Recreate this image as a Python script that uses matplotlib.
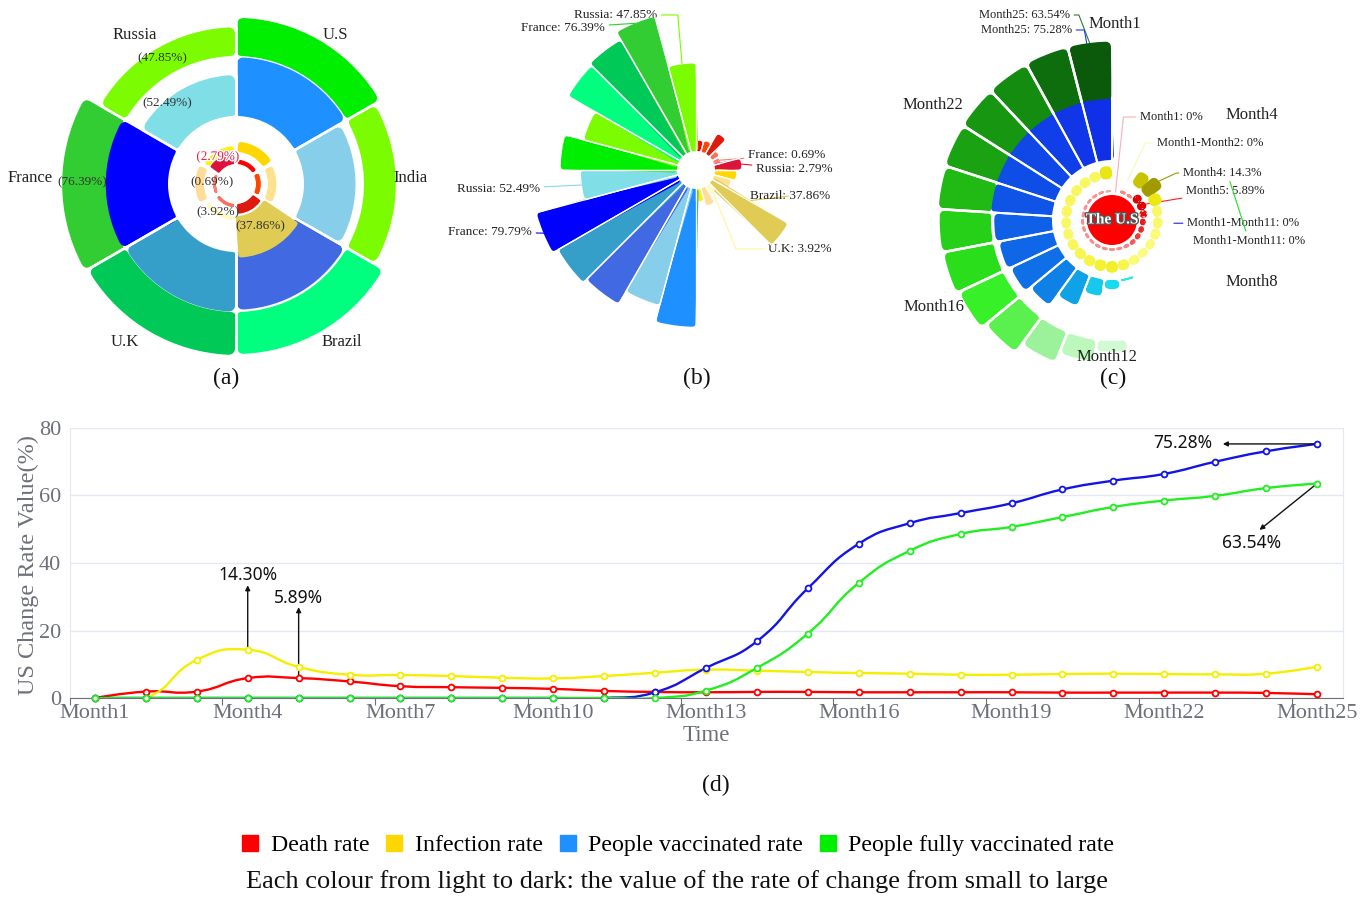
import numpy as np
import matplotlib
matplotlib.use('Agg')
import matplotlib.pyplot as plt
from matplotlib.path import Path
from matplotlib.patches import PathPatch
from matplotlib.colors import LinearSegmentedColormap
from matplotlib.lines import Line2D
import matplotlib.patheffects as pe

W, H, DPI = 1372, 897, 100
SERIF = 'Liberation Serif'

# ---------------- data ----------------
countries = ['U.S', 'India', 'Brazil', 'U.K', 'France', 'Russia']
death_by_country = [1.1, 1.2, 2.45, 0.85, 0.69, 2.79]
infection_by_country = [9.3, 7.6, 37.86, 3.92, 7.9, 5.4]
vaccinated_by_country = [75.28, 66.0, 74.0, 76.5, 79.79, 52.49]
fully_by_country = [63.54, 53.0, 70.0, 71.5, 76.39, 47.85]

months = ['Month%d' % i for i in range(1, 26)]
death_rate = [0, 1.9, 1.9, 5.89, 5.89, 4.9, 3.5, 3.2, 3.0, 2.7, 2.1, 1.8, 1.7,
              1.8, 1.8, 1.7, 1.7, 1.7, 1.7, 1.6, 1.6, 1.6, 1.6, 1.5, 1.1]
infection_rate = [0, 0, 11.3, 14.3, 9.2, 6.9, 6.8, 6.5, 6.0, 5.8, 6.5, 7.5, 8.4,
                  8.1, 7.7, 7.4, 7.2, 6.9, 6.9, 7.1, 7.2, 7.1, 7.0, 7.2, 9.3]
vaccinated_rate = [0, 0, 0, 0, 0, 0, 0, 0, 0, 0, 0, 1.7, 8.9,
                   16.8, 32.5, 45.7, 51.8, 54.8, 57.7, 61.8, 64.4, 66.4, 70.0, 73.1, 75.28]
fully_rate = [0, 0, 0, 0, 0, 0, 0, 0, 0, 0, 0, 0, 2.2,
              8.9, 19.1, 34.1, 43.6, 48.6, 50.7, 53.6, 56.6, 58.5, 59.9, 62.2, 63.54]

# colours per country (panels a, b)
death_colors = ['#FF0000', '#FF4500', '#DD1A10', '#F47260', '#FA8072', '#DC143C']
infection_colors = ['#FFD700', '#FFE08C', '#E0CB55', '#FFF9C8', '#FFDD99', '#FFF200']
vaccinated_colors = ['#1E90FF', '#87CEEB', '#4169E1', '#359FC9', '#0000FF', '#80DEE6']
fully_colors = ['#00EE00', '#7CFC00', '#00FF7F', '#00C957', '#32CD32', '#7CFC00']

# light -> dark colour scales (panel c)
cm_death = LinearSegmentedColormap.from_list('d', [(0, '#FBC4C4'), (0.4, '#F47C7C'), (0.56, '#E82020'), (1, '#E00000')])
cm_inf = LinearSegmentedColormap.from_list('i', [(0, '#FFFFC0'), (0.45, '#FAFA78'), (0.62, '#F0EE18'), (0.8, '#C6C200'), (1, '#A09A00')])
cm_vac = LinearSegmentedColormap.from_list('v', [(0, '#1CF0F0'), (0.5, '#0E96E6'), (1, '#1030E8')])
cm_full = LinearSegmentedColormap.from_list('f', [(0, '#D8FBD8'), (0.35, '#90F090'), (0.6, '#48F038'), (0.72, '#30F020'),
                                                  (0.8, '#26D018'), (0.88, '#1CA812'), (0.95, '#138A10'), (1, '#0B5A0B')])

fig = plt.figure(figsize=(W / DPI, H / DPI), dpi=DPI)


def px(x, y):
    return (x, H - y)


def ftext(x, y, s, **kw):
    kw.setdefault('ha', 'center')
    kw.setdefault('va', 'center')
    kw.setdefault('family', SERIF)
    return fig.text(x / W, 1 - y / H, s, **kw)


def polar_ax(cx, cy, R):
    ax = fig.add_axes([(cx - R) / W, (H - cy - R) / H, 2 * R / W, 2 * R / H], projection='polar')
    ax.set_theta_zero_location('N')
    ax.set_theta_direction(-1)
    ax.set_ylim(0, R)
    ax.axis('off')
    return ax


def rbars(ax, thetas, heights, bottom, width, colors, e=4.0, gap=2.0, zorder=2, sep=0, sep_from=None):
    # bars with rounded corners (thick round-joined edge of the same colour),
    # a plain filled bar underneath keeps small bars solid,
    # optional white separators between neighbouring bars
    for t, h, c in zip(thetas, heights, colors):
        if h <= 0:
            continue
        ee = min(e, h / 2)
        rout = bottom + h
        w = max(width - (gap + 2 * ee) / rout, 0.002)
        ax.bar(t, max(h - 2 * ee, 0.05), width=w, bottom=bottom + ee, color=c, edgecolor=c,
               linewidth=2 * ee * 72 / DPI, joinstyle='round', zorder=zorder)
        ax.bar(t, h - 0.6 * ee, width=w + 1.4 * ee / rout, bottom=bottom + 0.3 * ee, color=c,
               linewidth=0, zorder=zorder)
        if sep:
            r0 = bottom if sep_from is None else sep_from
            for tb in (t - width / 2, t + width / 2):
                ax.plot([tb, tb], [r0, rout], color='white', lw=sep * 72 / DPI,
                        solid_capstyle='butt', zorder=zorder + 0.01)


def leader(ax, s, xy_deg, r, tx, ty, color, ha, conn='arc3', size=9.5):
    ax.annotate(s, xy=(np.deg2rad(xy_deg), r), xycoords='data', xytext=px(tx, ty), textcoords='figure pixels',
                ha=ha, va='center', family=SERIF, fontsize=size, color='#222222', zorder=0.5,
                arrowprops=dict(arrowstyle='-', color=color, lw=0.8, shrinkA=1, shrinkB=0, connectionstyle=conn))


# ---------------- (a) nested rose rings ----------------
dA = np.array(death_by_country)
iA = np.array(infection_by_country)
vA = np.array(vaccinated_by_country)
fA = np.array(fully_by_country)
axA = polar_ax(236, 184, 200)
thA = np.deg2rad(30 + 60 * np.arange(6))
wA = np.deg2rad(60)
rbars(axA, thA, 0.6 * fA, 128, wA, fully_colors, e=6, gap=2.5, sep=2.5)
rbars(axA, thA, 0.78 * vA, 68, wA, vaccinated_colors, e=6, gap=2.5, sep=2.5)
rbars(axA, thA, 1.1 * iA, 32, wA, infection_colors, e=2.5, gap=5, zorder=3)
rbars(axA, thA, 4 * dA, 20, wA, death_colors, e=1.5, gap=4, zorder=4)

for name, (x, y) in zip(countries, [(335, 35), (410, 178), (342, 342), (125, 342), (30, 178), (135, 35)]):
    ftext(x, y, name, fontsize=12, color='#222222')
ftext(162, 58, '(%.2f%%)' % fully_by_country[5], fontsize=9.5, color='#333333')
ftext(167, 103, '(%.2f%%)' % vaccinated_by_country[5], fontsize=9.5, color='#333333')
ftext(82, 182, '(%.2f%%)' % fully_by_country[4], fontsize=9.5, color='#333333')
ftext(212, 182, '(%.2f%%)' % death_by_country[4], fontsize=9.5, color='#333333', zorder=10)
ftext(218, 212, '(%.2f%%)' % infection_by_country[3], fontsize=9.5, color='#333333', zorder=10)
ftext(260, 226, '(%.2f%%)' % infection_by_country[2], fontsize=9.5, color='#333333', zorder=10)
ftext(218, 157, '(%.2f%%)' % death_by_country[5], fontsize=9.5, color='#E8204A', zorder=10,
      path_effects=[pe.withStroke(linewidth=2, foreground='white')])

# ---------------- (b) radial bars ----------------
axB = polar_ax(696, 170, 180)
thB = np.deg2rad(7.5 + 15 * np.arange(24))
hB = np.concatenate([9.5 * dA, 2.3 * iA, 1.83 * vA, 1.83 * fA])
cB = death_colors + infection_colors + vaccinated_colors + fully_colors
rbars(axB, thB, hB, 19, np.deg2rad(15), cB, e=3, gap=1.2, sep=1.3, sep_from=0)

leader(axB, 'Russia: %.2f%%' % fully_by_country[5], 352.5, 19 + 1.83 * fA[5], 657, 15, '#7CFC00', 'right',
       'angle,angleA=0,angleB=95,rad=0')
leader(axB, 'France: %.2f%%' % fully_by_country[4], 337.5, 19 + 1.83 * fA[4], 605, 28, '#32CD32', 'right')
leader(axB, 'France: %.2f%%' % death_by_country[4], 67.5, 19 + 9.5 * dA[4], 748, 155, '#FA8072', 'left')
leader(axB, 'Russia: %.2f%%' % death_by_country[5], 82.5, 19 + 9.5 * dA[5], 756, 169, '#DC143C', 'left')
leader(axB, 'Brazil: %.2f%%' % infection_by_country[2], 121, 60, 750, 196, '#E0CB55', 'left')
leader(axB, 'U.K: %.2f%%' % infection_by_country[3], 142.5, 19 + 2.3 * iA[3], 768, 249, '#FFF3A0', 'left',
       'angle,angleA=0,angleB=-68,rad=0')
leader(axB, 'Russia: %.2f%%' % vaccinated_by_country[5], 262.5, 19 + 1.83 * vA[5], 540, 189, '#80DEE6', 'right')
leader(axB, 'France: %.2f%%' % vaccinated_by_country[4], 247.5, 19 + 1.83 * vA[4], 532, 232, '#0000FF', 'right')

# ---------------- (c) monthly polar bars for the U.S ----------------
axC = polar_ax(1112, 220, 215)
thC = np.deg2rad(14.4 * (np.arange(25) + 0.5))
wC = np.deg2rad(14.4)
axC.bar(0, 25, width=2 * np.pi, bottom=0, color='#FF0000', zorder=2)
dC = np.array(death_rate)
iC = np.array(infection_rate)
vC = np.array(vaccinated_rate)
fC = np.array(fully_rate)
rbars(axC, thC, 1.6 * dC, 28, wC, [cm_death(v / dC.max()) for v in dC], e=4, gap=1.5)
rbars(axC, thC, 1.4 * iC, 41, wC, [cm_inf(v / iC.max()) for v in iC], e=5, gap=1.2)
rbars(axC, thC, 1.0 * vC, 60, wC, [cm_vac(v / vC.max()) for v in vC], e=4.5, gap=2, sep=2)
rbars(axC, thC, 7.2 * np.sqrt(fC), 121, wC, [cm_full(v / fC.max()) for v in fC], e=5, gap=2.5, sep=2.5, zorder=3)

ftext(1112, 220, 'The U.S', fontsize=11, color='white', weight='bold', zorder=10,
      path_effects=[pe.withStroke(linewidth=2, foreground='#555555')])
for name, (x, y) in zip(['Month1', 'Month4', 'Month8', 'Month12', 'Month16', 'Month22'],
                        [(1115, 24), (1252, 115), (1252, 282), (1107, 357), (934, 307), (933, 105)]):
    ftext(x, y, name, fontsize=12, color='#222222')

leader(axC, 'Month25: %.2f%%' % fully_rate[-1], 352.8, 121 + 7.2 * np.sqrt(fC[-1]), 1070, 15, '#2E7D32', 'right',
       'angle,angleA=0,angleB=111,rad=0', size=9)
leader(axC, 'Month25: %.2f%%' % vaccinated_rate[-1], 352.8, 118, 1072, 30, '#1E3CE0', 'right',
       'angle,angleA=0,angleB=100,rad=0', size=9)
leader(axC, 'Month1: %g%%' % death_rate[0], 7.2, 28, 1140, 117, '#F8B0B0', 'left',
       'angle,angleA=0,angleB=84,rad=0', size=9)
leader(axC, 'Month1-Month2: %g%%' % infection_rate[0], 21.6, 42, 1157, 143, '#F8F8C0', 'left',
       'angle,angleA=0,angleB=65,rad=0', size=9)
leader(axC, 'Month4: %g%%' % infection_rate[3], 50.4, 41 + 1.4 * iC[3], 1183, 173, '#A09A00', 'left',
       'angle,angleA=0,angleB=25,rad=0', size=9)
leader(axC, 'Month5: %g%%' % death_rate[4], 64.8, 28 + 1.6 * dC[4], 1186, 191, '#FF2020', 'left', size=9)
leader(axC, 'Month1-Month11: %g%%' % vaccinated_rate[0], 93, 62, 1187, 223, '#2020FF', 'left', size=9)
leader(axC, 'Month1-Month11: %g%%' % fully_rate[0], 72, 124, 1193, 241, '#20E020', 'left', size=9)

for s, x in [('(a)', 226), ('(b)', 697), ('(c)', 1113)]:
    ftext(x, 378, s, fontsize=17, color='#111111')

# ---------------- (d) line chart ----------------
axD = fig.add_axes([69.5 / W, (H - 698) / H, (1342.5 - 69.5) / W, 270 / H])
x = np.arange(1, 26)
axD.set_xlim(0.5, 25.5)
axD.set_ylim(0, 80)


def smooth_line(ax, xs, ys, color, lw=1.7, k=0.5):
    xs = np.asarray(xs, float)
    ys = np.asarray(ys, float)
    sx = ax.bbox.width / np.diff(ax.get_xlim())[0]
    sy = ax.bbox.height / np.diff(ax.get_ylim())[0]
    pts = np.column_stack([xs, ys])
    cin, cout = pts.copy(), pts.copy()
    for i in range(1, len(xs) - 1):
        v = (pts[i + 1] - pts[i - 1]) * k
        d0 = np.hypot((xs[i] - xs[i - 1]) * sx, (ys[i] - ys[i - 1]) * sy)
        d1 = np.hypot((xs[i + 1] - xs[i]) * sx, (ys[i + 1] - ys[i]) * sy)
        cin[i] = pts[i] - v * d0 / (d0 + d1)
        cout[i] = pts[i] + v * d1 / (d0 + d1)
    verts, codes = [pts[0]], [Path.MOVETO]
    for i in range(len(xs) - 1):
        verts += [cout[i], cin[i + 1], pts[i + 1]]
        codes += [Path.CURVE4] * 3
    ax.add_patch(PathPatch(Path(verts, codes), fill=False, edgecolor=color, lw=lw, zorder=3))
    ax.plot(xs, ys, 'o', ms=4.2, mfc='white', mec=color, mew=1.3, zorder=4, clip_on=False)


series = [(death_rate, '#FF0000'), (infection_rate, '#F5EE00'), (vaccinated_rate, '#1414E6'), (fully_rate, '#22EE22')]
for ys, c in series:
    smooth_line(axD, x, ys, c)

axD.set_yticks([0, 20, 40, 60, 80])
axD.yaxis.grid(True, color='#E3E8F2', lw=1)
axD.set_axisbelow(True)
axD.tick_params(axis='y', length=0, pad=6, labelsize=16, labelcolor='#6E7079')
axD.set_xticks(np.arange(0.5, 25, 3))
axD.set_xticklabels([])
axD.set_xticks(x[::3], minor=True)
axD.set_xticklabels(months[::3], minor=True)
axD.tick_params(axis='x', which='major', length=5, color='#6E7079', direction='out')
axD.tick_params(axis='x', which='minor', length=0, pad=4, labelsize=16, labelcolor='#6E7079')
for lab in axD.get_xticklabels(minor=True) + axD.get_yticklabels():
    lab.set_family(SERIF)
for sp in ['left', 'right', 'top']:
    axD.spines[sp].set_color('#E3E8F2')
axD.spines['top'].set_visible(False)
axD.spines['bottom'].set_color('#6E7079')

ann = dict(family='Noto Sans', fontsize=12.5, color='#111111', ha='center', va='center')
arr = dict(arrowstyle='-|>', color='#111111', lw=1, mutation_scale=7, shrinkA=0, shrinkB=0)
axD.text(4, 36.4, '%.2f%%' % infection_rate[3], **ann)
axD.annotate('', xy=(4, 33.4), xytext=(4, infection_rate[3]), arrowprops=arr)
axD.text(5, 29.6, '%.2f%%' % death_rate[4], **ann)
axD.annotate('', xy=(5, 26.9), xytext=(5, death_rate[4]), arrowprops=arr)
axD.text(22.36, 75.6, '%.2f%%' % vaccinated_rate[-1], **ann)
axD.annotate('', xy=(23.15, vaccinated_rate[-1]), xytext=(25, vaccinated_rate[-1]), arrowprops=arr)
axD.text(23.71, 45.9, '%.2f%%' % fully_rate[-1], **ann)
axD.annotate('', xy=(23.87, 49.8), xytext=(25, fully_rate[-1]), arrowprops=arr)

ftext(28, 565, 'US Change Rate Value(%)', fontsize=17.5, color='#6E7079', rotation=90)
ftext(706, 735, 'Time', fontsize=16.5, color='#6E7079')
ftext(716, 785, '(d)', fontsize=17, color='#111111')

# ---------------- legend ----------------
handles = [Line2D([], [], ls='', marker='s', ms=12, mfc=c, mec=c) for c in ['#FF0000', '#FFD700', '#1E90FF', '#00EE00']]
fig.legend(handles, ['Death rate', 'Infection rate', 'People vaccinated rate', 'People fully vaccinated rate'],
           loc='center', bbox_to_anchor=(677 / W, 1 - 845 / H), ncol=4, frameon=False,
           prop={'family': SERIF, 'size': 17.2}, handlelength=0.9, handletextpad=0.4, columnspacing=0.6)
ftext(677, 882, 'Each colour from light to dark: the value of the rate of change from small to large',
      fontsize=19, color='#111111')

fig.savefig('out.png', dpi=DPI)
